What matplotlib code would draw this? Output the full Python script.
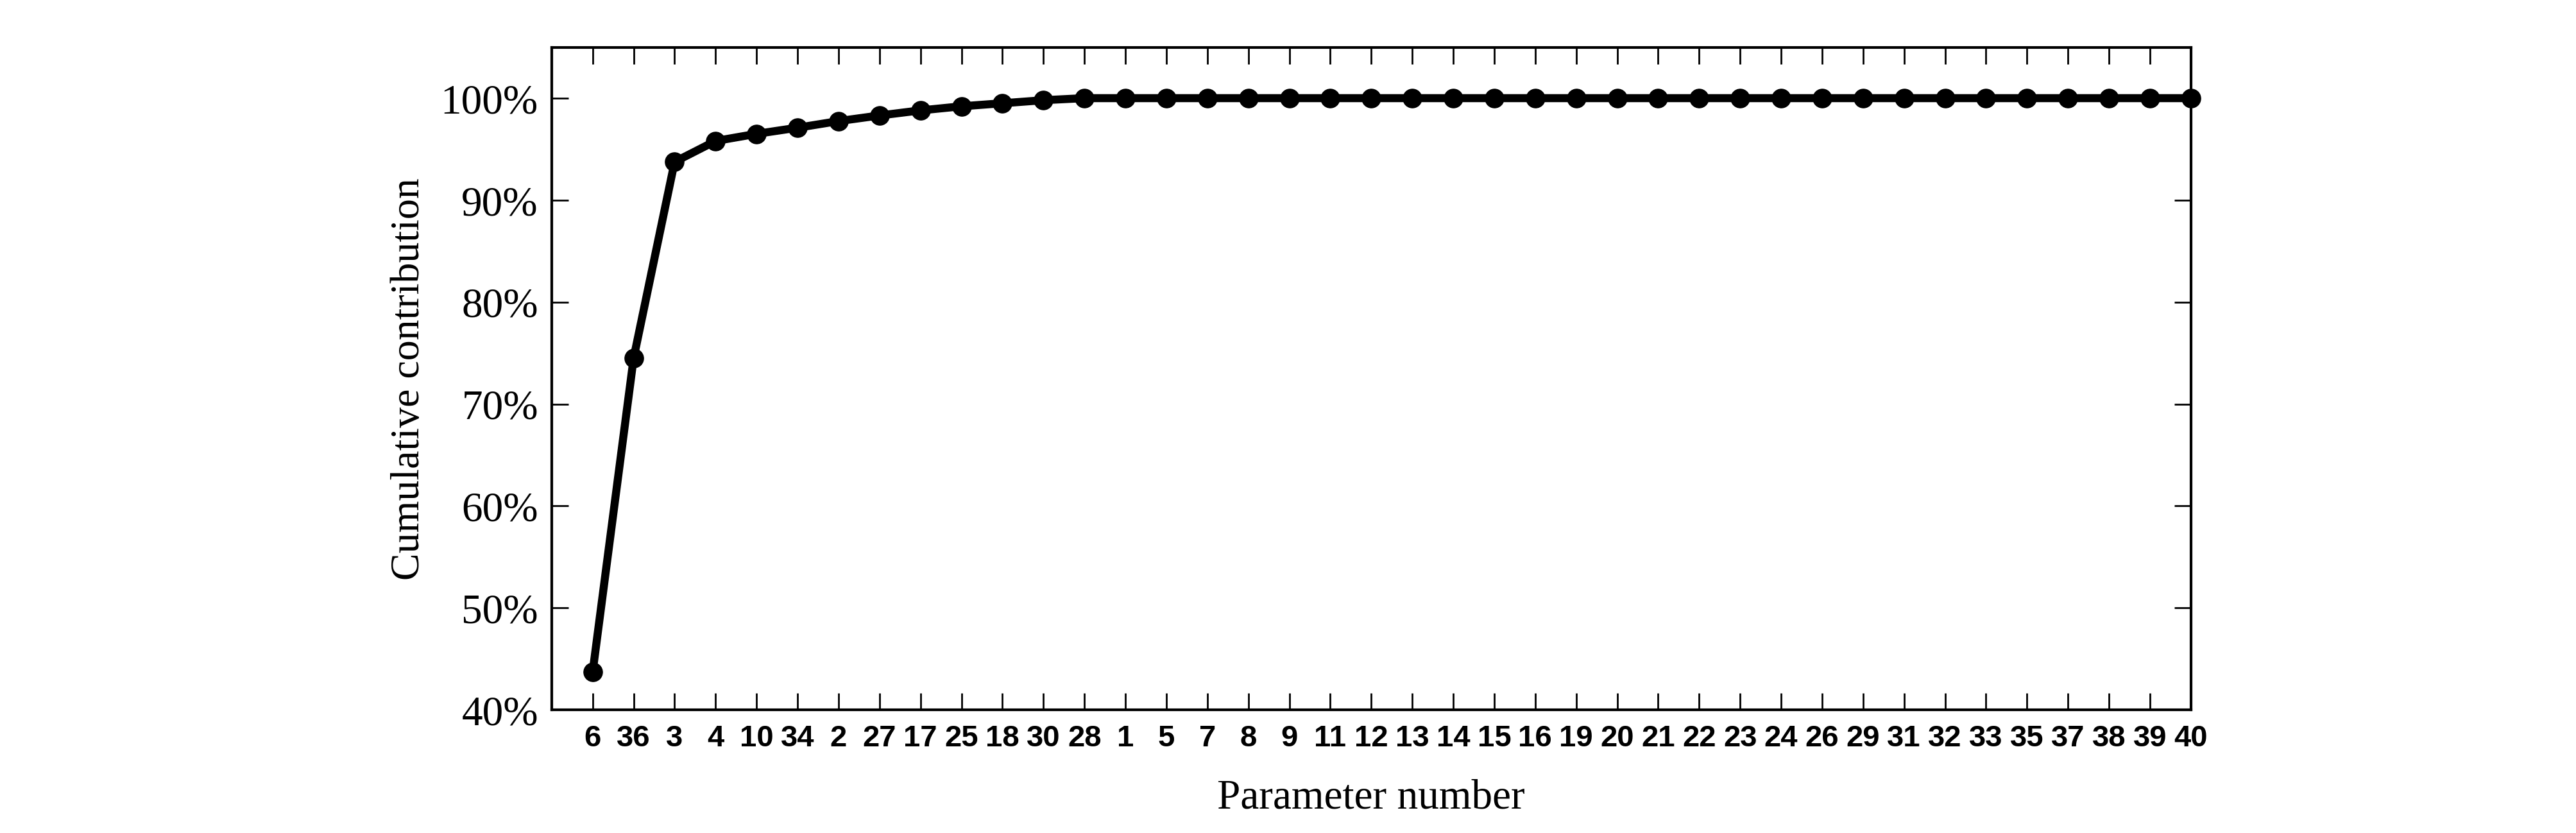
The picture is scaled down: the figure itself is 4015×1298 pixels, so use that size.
import matplotlib
matplotlib.use("Agg")
import matplotlib.pyplot as plt
import numpy as np

# parameter order (sorted by contribution) and cumulative contribution, %
params = ["6", "36", "3", "4", "10", "34", "2", "27", "17", "25", "18", "30", "28",
          "1", "5", "7", "8", "9", "11", "12", "13", "14", "15", "16", "19", "20",
          "21", "22", "23", "24", "26", "29", "31", "32", "33", "35", "37", "38",
          "39", "40"]
cum = [43.7, 74.5, 93.75, 95.8, 96.5, 97.1, 97.75, 98.3, 98.8, 99.2, 99.5, 99.8, 100.0,
       100.0, 100.0, 100.0, 100.0, 100.0, 100.0, 100.0, 100.0, 100.0, 100.0, 100.0,
       100.0, 100.0, 100.0, 100.0, 100.0, 100.0, 100.0, 100.0, 100.0, 100.0, 100.0,
       100.0, 100.0, 100.0, 100.0, 100.0]
yticks = [40, 50, 60, 70, 80, 90, 100]
ylabels = ["40%", "50%", "60%", "70%", "80%", "90%", "100%"]

serif = "Liberation Serif"
sans = "Liberation Sans"

fig = plt.figure(figsize=(40.16, 12.985), dpi=100)
ax = fig.add_axes([0.2141, 0.1478, 0.8503 - 0.2141, 0.943 - 0.1478])

x = np.arange(len(params))
ax.plot(x, cum, "-o", color="black", lw=9, ms=21, clip_on=False, zorder=3)

ax.set_xlim(-1, len(params) - 1)
ax.set_ylim(40, 105)
ax.set_xticks(x)
ax.set_xticklabels(params, fontfamily=sans, fontweight="bold", fontsize=34)
ax.set_yticks(yticks)
ax.set_yticklabels(ylabels, fontfamily=serif, fontsize=47)

ax.tick_params(axis="both", direction="in", top=True, right=True,
               length=19, width=2, color="black")
ax.tick_params(axis="x", pad=16)
ax.tick_params(axis="y", pad=15)
for s in ax.spines.values():
    s.set_linewidth(3)

ax.set_xlabel("Parameter number", fontfamily=serif, fontsize=47, labelpad=30)
ax.set_ylabel("Cumulative contribution", fontfamily=serif, fontsize=46, labelpad=14)

fig.savefig("out.png", dpi=100)
